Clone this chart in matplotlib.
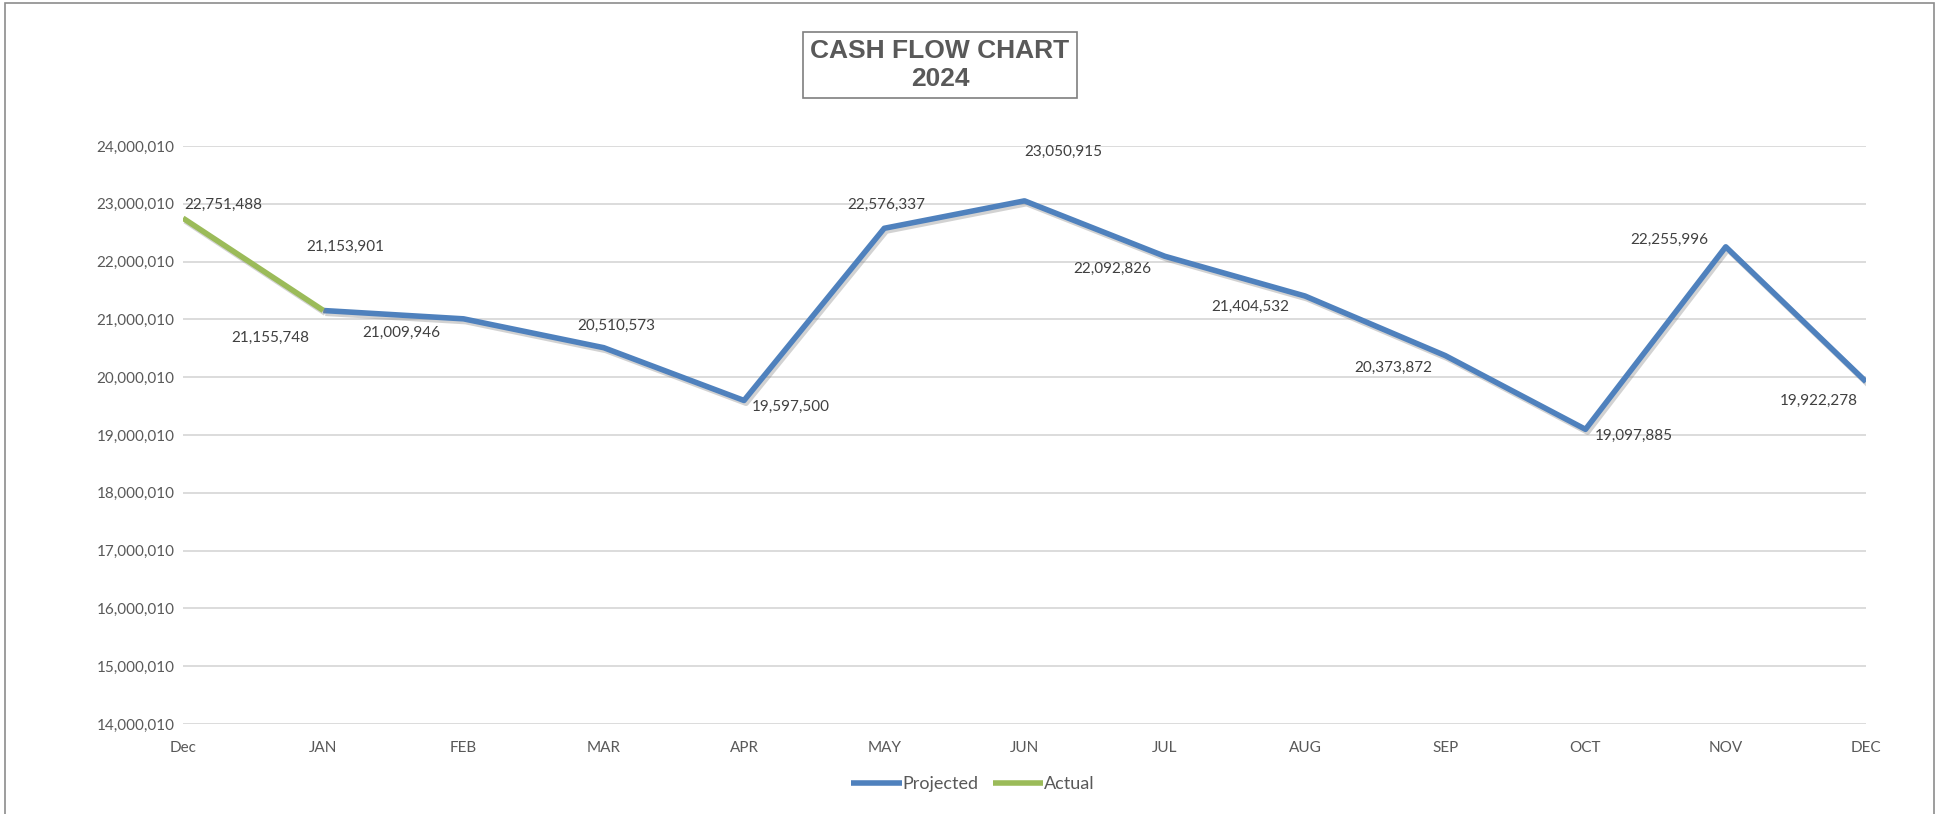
import numpy as np
import matplotlib
matplotlib.use("Agg")
import matplotlib.pyplot as plt
import matplotlib.patheffects as pe
from matplotlib.patches import Rectangle
from matplotlib.ticker import FuncFormatter

# Chart data
months = ['Dec', 'JAN', 'FEB', 'MAR', 'APR', 'MAY', 'JUN', 'JUL', 'AUG', 'SEP', 'OCT', 'NOV', 'DEC']
projected = [np.nan, 21153901, 21009946, 20510573, 19597500, 22576337, 23050915,
             22092826, 21404532, 20373872, 19097885, 22255996, 19922278]
actual = [22751488, 21155748] + [np.nan] * 11
y_ticks = [14000010 + i * 1000000 for i in range(11)]

# label offsets in pixels (dx, dy) per point
proj_offsets = [None, (22, 64), (-62, -14), (13, 22), (47, -6), (2, 23), (39, 49),
                (-52, -13), (-55, -11), (-52, -12), (48, -7), (-56, 7), (-47, -19)]
act_offsets = [(40, 13), (-53, -27)]

blue = '#4f81bd'
green = '#9bbb59'
txt = '#404040'
axcol = '#595959'

plt.rcParams['font.family'] = ['Lato', 'DejaVu Sans']

fig = plt.figure(figsize=(19.38, 8.14), dpi=100)
ax = fig.add_axes([183 / 1938, 1 - 724 / 814, (1866 - 183) / 1938, (724 - 146) / 814])

x = np.arange(len(months))
shadow = [pe.SimpleLineShadow(offset=(1.5, -2), shadow_color='gray', alpha=0.35), pe.Normal()]
ax.plot(x, projected, color=blue, lw=4, solid_capstyle='butt', label='Projected',
        path_effects=shadow, zorder=3)
ax.plot(x, actual, color=green, lw=4, solid_capstyle='butt', label='Actual',
        path_effects=shadow, zorder=4)

for i, v in enumerate(projected):
    if np.isnan(v):
        continue
    ax.annotate(f'{v:,.0f}', (x[i], v), xytext=proj_offsets[i], textcoords='offset pixels',
                ha='center', va='center', fontsize=11, color=txt, zorder=5)
for i, v in enumerate(actual):
    if np.isnan(v):
        continue
    ax.annotate(f'{v:,.0f}', (x[i], v), xytext=act_offsets[i], textcoords='offset pixels',
                ha='center', va='center', fontsize=11, color=txt, zorder=5)

ax.set_xlim(0, len(months) - 1)
ax.set_ylim(y_ticks[0], y_ticks[-1])
ax.set_yticks(y_ticks)
ax.yaxis.set_major_formatter(FuncFormatter(lambda v, p: f'{v:,.0f}'))
ax.set_xticks(x)
ax.set_xticklabels(months)
ax.grid(axis='y', color='#d9d9d9', lw=1.3)
ax.set_axisbelow(True)
for s in ax.spines.values():
    s.set_visible(False)
ax.tick_params(axis='both', length=0, labelsize=11, labelcolor=axcol)
ax.tick_params(axis='y', pad=6)
ax.tick_params(axis='x', pad=12)
ax.patch.set_alpha(0)

# title box
fig.text(940 / 1938, 1 - 65 / 814, 'CASH FLOW CHART\n2024', ha='center', va='center',
         fontsize=19, fontweight='bold', color=axcol, family=['Liberation Sans', 'DejaVu Sans'],
         linespacing=1.2,
         bbox=dict(boxstyle='square,pad=0.28', fc='white', ec='#7f7f7f', lw=1.2))

leg = fig.legend(loc='center', bbox_to_anchor=(973 / 1938, 1 - 784 / 814), ncol=2,
                 frameon=False, fontsize=13, handlelength=2.8, handletextpad=0.05,
                 columnspacing=0.8)
for t in leg.get_texts():
    t.set_color(axcol)
for h in leg.legend_handles:
    h.set_path_effects([])
    h.set_linewidth(4)

# chart area border
fig.patches.append(Rectangle((5 / 1938, -0.05), (1934 - 5) / 1938, 1.05 - 3 / 814,
                             transform=fig.transFigure, fill=False, ec='#8c8c8c', lw=1.2))

fig.savefig('out.png', dpi=100)
